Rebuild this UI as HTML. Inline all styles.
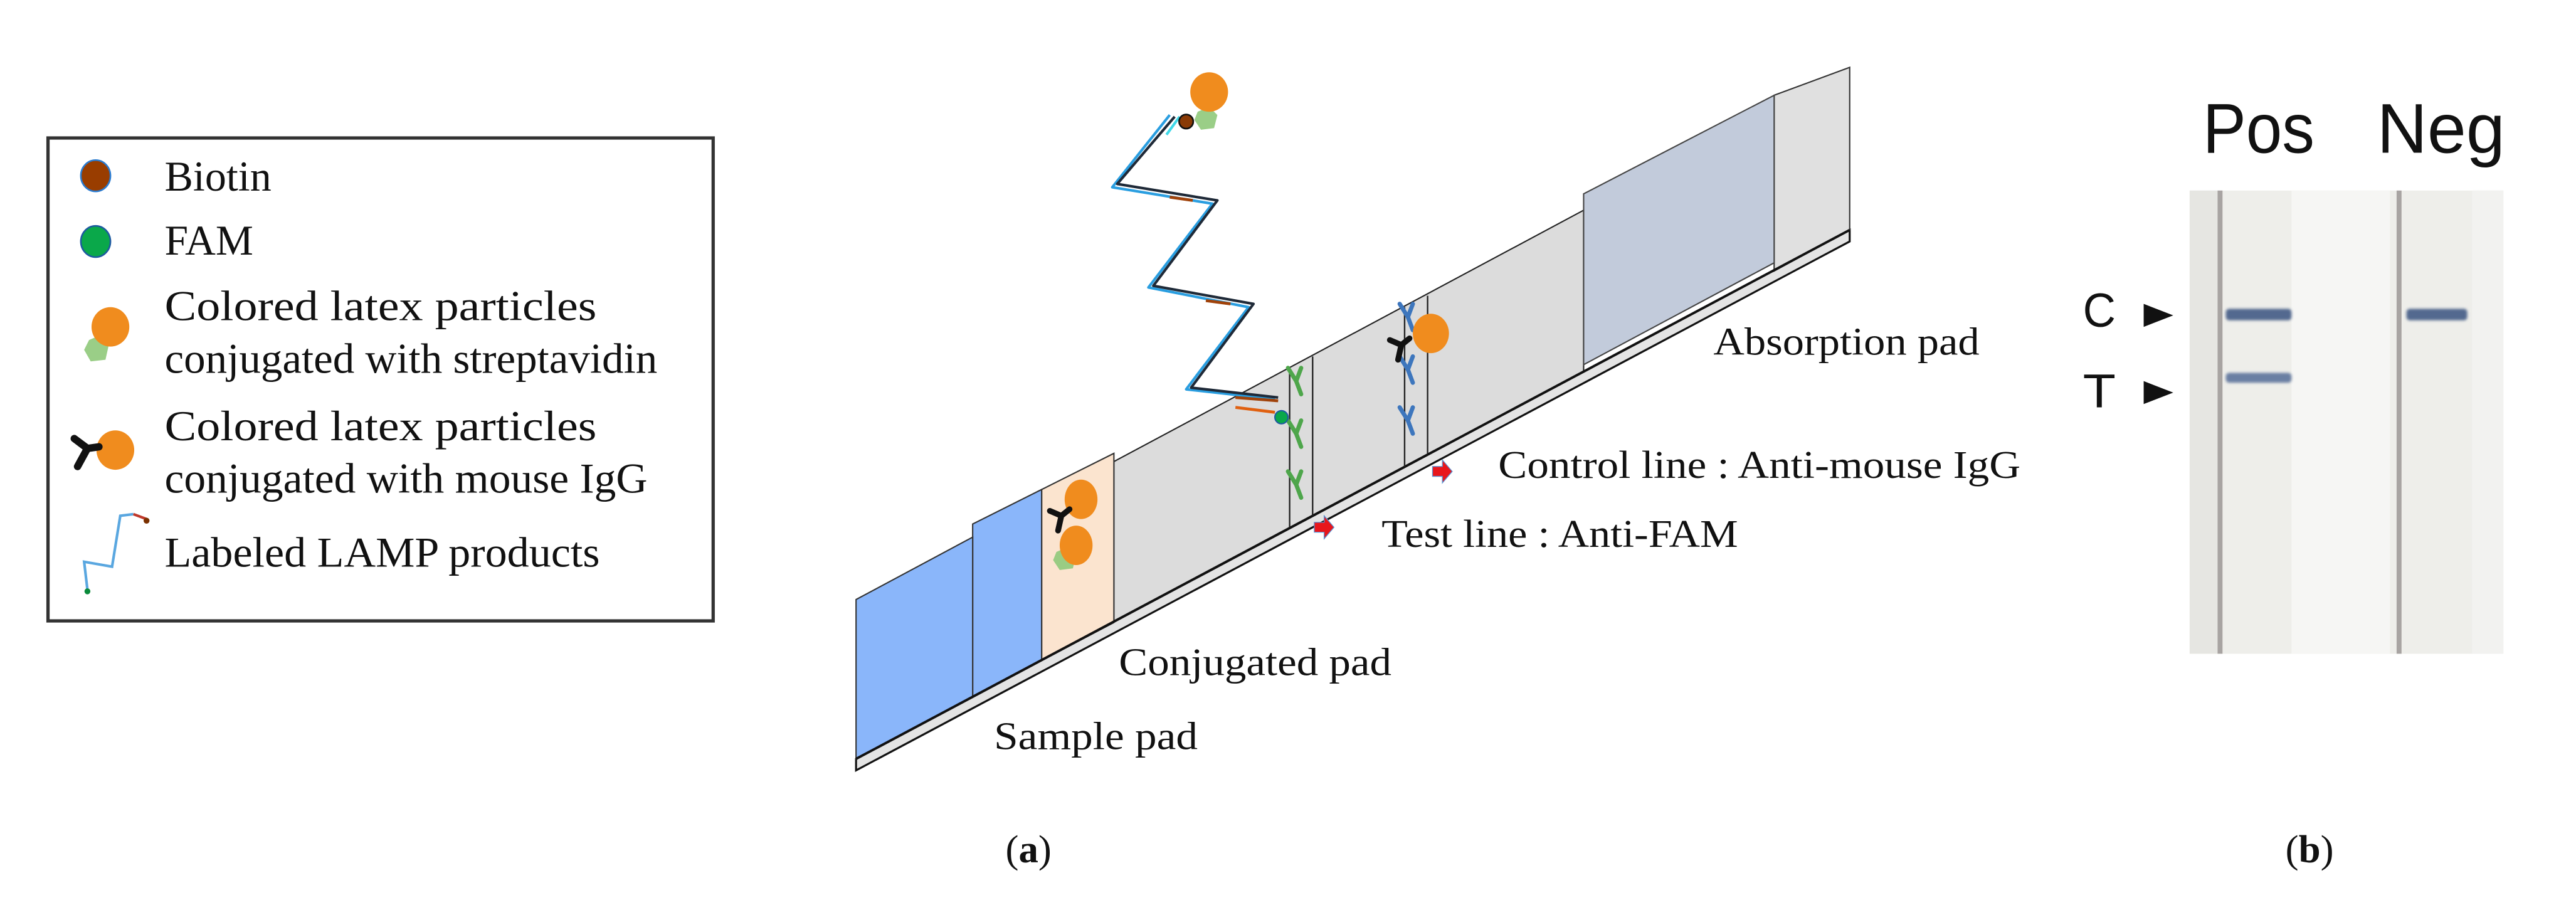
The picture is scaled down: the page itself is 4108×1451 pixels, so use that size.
<!DOCTYPE html>
<html><head><meta charset="utf-8"><style>html,body{margin:0;padding:0;background:#fff}svg{display:block}</style></head>
<body>
<svg width="4108" height="1451" viewBox="0 0 1568 554" xmlns="http://www.w3.org/2000/svg" font-family="'Liberation Serif',serif">
<defs><filter id="bl"><feGaussianBlur stdDeviation="0.8"/></filter></defs>
<rect width="1568" height="554" fill="#fff"/>
<!-- Legend -->
<rect x="29" y="84" width="405" height="294" fill="#fff" stroke="#333" stroke-width="2"/>
<ellipse cx="58" cy="107" rx="9" ry="9.5" fill="#993d00" stroke="#2a7bd0" stroke-width="1"/>
<ellipse cx="58" cy="147" rx="9" ry="9.5" fill="#0aa84a" stroke="#1d5aa0" stroke-width="1"/>
<polygon points="54,207 61,204 66,210 64,219 55,220 51,213" fill="#8fc97a" opacity="0.9"/>
<ellipse cx="67" cy="199" rx="11.5" ry="12" fill="#f08c1e"/>
<ellipse cx="70" cy="274" rx="11.5" ry="12" fill="#f08c1e"/>
<path d="M45,267 L53,273 L60,272 M53,273 L47,284" stroke="#111" stroke-width="4.5" fill="none" stroke-linecap="round"/>
<path d="M53,359 L51,342 L68,345 L73,314 L81,313" stroke="#5aa7e0" stroke-width="1.6" fill="none"/>
<path d="M81,313 L89,316" stroke="#c0392b" stroke-width="1.6"/>
<circle cx="53" cy="360" r="1.8" fill="#0a8a3a"/><circle cx="89" cy="317" r="1.8" fill="#7a3000"/>
<g font-size="26" fill="#111">
<text x="100" y="116" textLength="65" lengthAdjust="spacingAndGlyphs">Biotin</text>
<text x="100" y="155" textLength="54" lengthAdjust="spacingAndGlyphs">FAM</text>
<text x="100" y="195" textLength="263" lengthAdjust="spacingAndGlyphs">Colored latex particles</text>
<text x="100" y="227" textLength="300" lengthAdjust="spacingAndGlyphs">conjugated with streptavidin</text>
<text x="100" y="268" textLength="263" lengthAdjust="spacingAndGlyphs">Colored latex particles</text>
<text x="100" y="300" textLength="294" lengthAdjust="spacingAndGlyphs">conjugated with mouse IgG</text>
<text x="100" y="345" textLength="265" lengthAdjust="spacingAndGlyphs">Labeled LAMP products</text>
</g>
<!-- Strip base slab -->
<polygon points="521,462 1126,140 1126,147 521,469" fill="#e4e4e4" stroke="#111" stroke-width="1.2"/>
<polygon points="1080,58 1126,41 1126,140 1080,165" fill="#e0e0e0" stroke="#333" stroke-width="0.8"/>
<polygon points="678,281 964,128 964,226 678,378" fill="#dcdcdc" stroke="#222" stroke-width="0.8"/>
<polygon points="964,118 1080,58 1080,160 964,222" fill="#c2cbdb" stroke="#444" stroke-width="0.8"/>
<polygon points="634,298 678,276 678,379 634,402" fill="#fbe4cf" stroke="#333" stroke-width="0.8"/>
<polygon points="592,319 634,298 634,402 592,424" fill="#8ab6fa" stroke="#333" stroke-width="0.8"/>
<polygon points="521,365 592,327 592,424 521,462" fill="#8ab6fa" stroke="#333" stroke-width="0.8"/>
<line x1="521" y1="462" x2="1126" y2="140" stroke="#111" stroke-width="1.5"/>
<g stroke="#222" stroke-width="0.9">
<line x1="785" y1="224" x2="785" y2="321"/><line x1="799" y1="217" x2="799" y2="314"/>
<line x1="855" y1="187" x2="855" y2="284"/><line x1="869" y1="180" x2="869" y2="276"/>
</g>
<g stroke="#4ea64b" stroke-width="2.6" fill="none" stroke-linecap="round">
<path d="M784,224 L789,232 L792,240 M792,224 L789,232"/>
<path d="M784,256 L789,264 L792,272 M792,256 L789,264"/>
<path d="M784,287 L789,295 L792,303 M792,287 L789,295"/>
</g>
<g stroke="#3d76bd" stroke-width="2.6" fill="none" stroke-linecap="round">
<path d="M852,185 L857,193 L860,201 M860,185 L857,193"/>
<path d="M852,217 L857,225 L860,233 M860,217 L857,225"/>
<path d="M852,248 L857,256 L860,264 M860,248 L857,256"/>
</g>
<ellipse cx="871" cy="203" rx="11" ry="12" fill="#f08c1e"/>
<path d="M846,207 L853,210 L858,206 M853,210 L851,219" stroke="#111" stroke-width="3.5" fill="none" stroke-linecap="round"/>
<ellipse cx="658" cy="304" rx="10" ry="12" fill="#f08c1e"/>
<polygon points="643,336 650,333 655,338 653,346 645,347 641,341" fill="#8fc97a" opacity="0.9"/>
<ellipse cx="655" cy="332" rx="10" ry="12" fill="#f08c1e"/>
<path d="M639,311 L646,314 L651,310 M646,314 L644,323" stroke="#111" stroke-width="3.5" fill="none" stroke-linecap="round"/>
<path d="M712,70 L677,114 L738,124 L699,175 L760,187 L722,237 L776,243" stroke="#2a9ee0" stroke-width="1.6" fill="none" stroke-linejoin="round"/>
<path d="M715,71 L680,112 L741,122 L702,174 L763,185 L725,236 L778,242" stroke="#1f2a38" stroke-width="1.6" fill="none" stroke-linejoin="round"/>
<line x1="718" y1="71" x2="710" y2="82" stroke="#3fd8e8" stroke-width="1.6"/>
<line x1="712" y1="120" x2="726" y2="122" stroke="#a0420a" stroke-width="1.8"/>
<line x1="734" y1="183" x2="749" y2="185" stroke="#a0420a" stroke-width="1.8"/>
<line x1="752" y1="242" x2="778" y2="244" stroke="#a0420a" stroke-width="1.8"/>
<line x1="752" y1="248" x2="776" y2="251" stroke="#e06010" stroke-width="1.8"/>
<circle cx="780" cy="254" r="4" fill="#0aa84a" stroke="#1d5aa0" stroke-width="0.8"/>
<polygon points="729,68 736,65 741,70 739,78 731,79 727,73" fill="#8fc97a" opacity="0.9"/>
<circle cx="722" cy="74" r="4.3" fill="#8a3a05" stroke="#111" stroke-width="1"/>
<ellipse cx="736" cy="56" rx="11.5" ry="12" fill="#f08c1e"/>
<polygon points="872,284 878,284 878,280 884,287 878,294 878,290 872,290" fill="#e8161c" stroke="#5a8fd0" stroke-width="0.5"/>
<polygon points="800,318 806,318 806,314 812,321 806,328 806,324 800,324" fill="#e8161c" stroke="#5a8fd0" stroke-width="0.5"/>
<g font-size="24" fill="#111">
<text x="1043" y="216" textLength="162" lengthAdjust="spacingAndGlyphs">Absorption pad</text>
<text x="912" y="291" textLength="318" lengthAdjust="spacingAndGlyphs">Control line : Anti-mouse IgG</text>
<text x="841" y="333" textLength="217" lengthAdjust="spacingAndGlyphs">Test line : Anti-FAM</text>
<text x="681" y="411" textLength="166" lengthAdjust="spacingAndGlyphs">Conjugated pad</text>
<text x="605" y="456" textLength="124" lengthAdjust="spacingAndGlyphs">Sample pad</text>
</g>
<text x="626" y="525" font-size="24" text-anchor="middle" fill="#111">(<tspan font-weight="bold">a</tspan>)</text>
<text x="1406" y="525" font-size="24" text-anchor="middle" fill="#111">(<tspan font-weight="bold">b</tspan>)</text>
<rect x="1333" y="116" width="191" height="282" fill="#eeeeea"/>
<rect x="1395" y="116" width="60" height="282" fill="#f6f6f4"/>
<rect x="1333" y="116" width="17" height="282" fill="#e6e6e2"/>
<rect x="1505" y="116" width="19" height="282" fill="#f2f2f0"/>
<rect x="1350" y="116" width="3" height="282" fill="#a8a4a2"/>
<rect x="1459" y="116" width="3" height="282" fill="#a8a4a2"/>
<g filter="url(#bl)">
<rect x="1355" y="188" width="40" height="7" rx="2" fill="#52698f"/>
<rect x="1355" y="227" width="40" height="6" rx="2" fill="#6a7fa3"/>
<rect x="1465" y="188" width="37" height="7" rx="2" fill="#52698f"/>
</g>
<g font-family="'Liberation Sans',sans-serif" fill="#111">
<text x="1341" y="93" font-size="43" textLength="68" lengthAdjust="spacingAndGlyphs">Pos</text>
<text x="1447" y="93" font-size="43" textLength="78" lengthAdjust="spacingAndGlyphs">Neg</text>
<text x="1268" y="199" font-size="29" textLength="20" lengthAdjust="spacingAndGlyphs">C</text>
<text x="1268" y="248" font-size="29" textLength="20" lengthAdjust="spacingAndGlyphs">T</text>
</g>
<polygon points="1305,185 1323,192 1305,199" fill="#111"/>
<polygon points="1305,232 1323,239 1305,246" fill="#111"/>
</svg>
</body></html>
